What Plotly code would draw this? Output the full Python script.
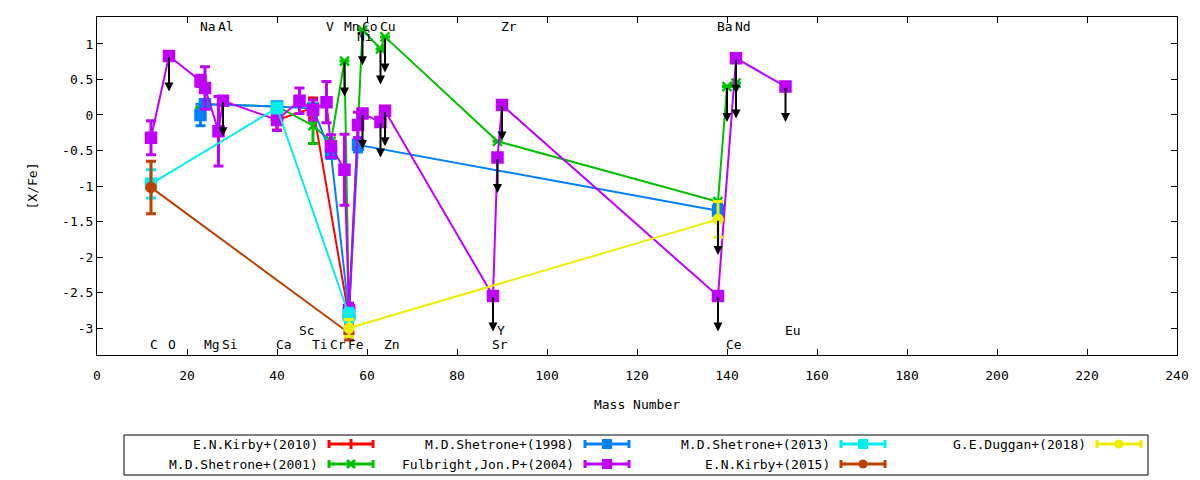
import plotly.graph_objects as go

# element labels: name, mass number, label row
elements = ["C", "O", "Na", "Mg", "Al", "Si", "Ca", "Sc", "Ti", "V", "Cr", "Mn",
            "Fe", "Ni", "Co", "Cu", "Zn", "Sr", "Y", "Zr", "Ba", "Ce", "Nd", "Eu"]
masses = [12, 16, 23, 24, 27, 28, 40, 45, 48, 51, 52, 55,
          56, 58, 59, 63, 64, 88, 89, 90, 138, 140, 142, 153]
label_rows = ["bot", "bot", "top", "bot", "top", "bot", "bot", "bot2", "bot", "top", "bot", "top",
              "bot", "top2", "top", "top", "bot", "bot", "bot2", "top", "top", "bot", "top", "bot2"]

# E.N.Kirby+(2010)
kirby10_el = ["Ca", "Ti", "Fe"]
kirby10_val = [-0.07, 0.10, -2.85]
kirby10_err = [0.14, 0.14, 0.10]
kirby10_lim = [0, 0, 0]

# M.D.Shetrone+(2001)
shet01_el = ["Na", "Mg", "Ca", "Ti", "Cr", "Mn", "Fe", "Co", "Cu", "Zn", "Y", "Ba", "Ce", "Nd"]
shet01_val = [0.04, 0.15, 0.12, -0.15, -0.37, 0.76, -2.80, 1.20, 0.93, 1.10, -0.37, -1.22, 0.40, 0.45]
shet01_err = [0.07, 0.05, 0, 0.25, 0, 0, 0.10, 0, 0, 0, 0, 0, 0, 0]
shet01_lim = [0, 0, 0, 0, 0, 1, 0, 1, 1, 1, 0, 0, 1, 1]

# M.D.Shetrone+(1998)
shet98_el = ["Na", "Mg", "Ca", "Ti", "Cr", "Fe", "Ni", "Ba"]
shet98_val = [0.00, 0.15, 0.12, 0.09, -0.54, -2.80, -0.42, -1.35]
shet98_err = [0.15, 0.05, 0, 0, 0.07, 0.10, 0.10, 0.10]
shet98_lim = [0, 0, 0, 0, 0, 0, 0, 0]

# Fulbright,Jon.P+(2004)
fulb04_el = ["C", "O", "Na", "Mg", "Al", "Si", "Ca", "Sc", "Ti", "V", "Cr", "Mn",
             "Fe", "Ni", "Co", "Cu", "Zn", "Sr", "Y", "Zr", "Ba", "Nd", "Eu"]
fulb04_val = [-0.32, 0.83, 0.48, 0.38, -0.23, 0.20, -0.07, 0.20, 0.07, 0.18, -0.44, -0.77,
              -2.75, -0.14, 0.02, -0.10, 0.06, -2.55, -0.60, 0.14, -2.55, 0.80, 0.40]
fulb04_err = [0.24, 0, 0.08, 0.30, 0.49, 0, 0.15, 0.18, 0.14, 0.29, 0.16, 0.50,
              0.10, 0.18, 0, 0, 0, 0, 0, 0, 0, 0, 0]
fulb04_lim = [0, 1, 0, 0, 0, 1, 0, 0, 0, 0, 0, 0,
              0, 0, 1, 1, 1, 1, 1, 1, 1, 1, 1]

# M.D.Shetrone+(2013)
shet13_el = ["C", "Ca", "Fe"]
shet13_val = [-0.97, 0.10, -2.82]
shet13_err = [0.20, 0.07, 0.10]
shet13_lim = [0, 0, 0]

# E.N.Kirby+(2015)
kirby15_el = ["C", "Fe"]
kirby15_val = [-1.02, -3.07]
kirby15_err = [0.37, 0.10]
kirby15_lim = [0, 0]

# G.E.Duggan+(2018)
dugg18_el = ["Fe", "Ba"]
dugg18_val = [-3.00, -1.47]
dugg18_err = [0.12, 0.25]
dugg18_lim = [0, 1]

yticks = [-3, -2.5, -2, -1.5, -1, -0.5, 0, 0.5, 1]
xticks = list(range(0, 241, 20))

FONT = "DejaVu Sans Mono"
mass_of = dict(zip(elements, masses))
row_y = {"top": 1.25, "top2": 1.10, "bot": -3.23, "bot2": -3.03}

series = [
    ("E.N.Kirby+(2010)", kirby10_el, kirby10_val, kirby10_err, kirby10_lim, "#ff0000", "plus"),
    ("M.D.Shetrone+(2001)", shet01_el, shet01_val, shet01_err, shet01_lim, "#00c000", "x"),
    ("M.D.Shetrone+(1998)", shet98_el, shet98_val, shet98_err, shet98_lim, "#0080ff", "square"),
    ("Fulbright,Jon.P+(2004)", fulb04_el, fulb04_val, fulb04_err, fulb04_lim, "#c000ff", "square"),
    ("M.D.Shetrone+(2013)", shet13_el, shet13_val, shet13_err, shet13_lim, "#00eeee", "square"),
    ("E.N.Kirby+(2015)", kirby15_el, kirby15_val, kirby15_err, kirby15_lim, "#c04000", "circle"),
    ("G.E.Duggan+(2018)", dugg18_el, dugg18_val, dugg18_err, dugg18_lim, "#eeee00", "circle"),
]

marker_style = {
    "plus": dict(symbol="cross-thin", size=9),
    "x": dict(symbol="x-thin", size=9),
    "square": dict(symbol="square", size=10),
    "circle": dict(symbol="circle", size=9),
}

fig = go.Figure()
annotations = []
for name, els, vals, errs, lims, color, mk in series:
    xs = [mass_of[e] for e in els]
    m = dict(marker_style[mk], color=color, line=dict(color=color, width=2.5))
    fig.add_trace(go.Scatter(
        x=xs, y=vals, mode="lines+markers", name=name, showlegend=False,
        line=dict(color=color, width=2), marker=m,
        error_y=dict(type="data", array=[e if e > 0 else None for e in errs],
                     color=color, thickness=3, width=5),
    ))
    # upper limits drawn as black down arrows
    for x, v, lim in zip(xs, vals, lims):
        if lim:
            annotations.append(dict(
                x=x, y=v - 0.5, ax=x, ay=v, xref="x", yref="y", axref="x", ayref="y",
                text="", showarrow=True, arrowhead=2, arrowsize=0.9, arrowwidth=2,
                arrowcolor="black"))

for el, m, r in zip(elements, masses, label_rows):
    annotations.append(dict(x=m, y=row_y[r], xref="x", yref="y", text=el, showarrow=False,
                            xanchor="left", xshift=-3, yanchor="middle",
                            font=dict(family=FONT, size=13, color="black")))

# hand-made legend box below the plot (gnuplot style: text, then sample)
# positions are page pixels; the plot area spans x 97..1177, y 17..355
def px_x(p):
    return (p - 97) / 1080

def px_y(p):
    return (355 - p) / 338

shapes = [dict(type="rect", xref="paper", yref="paper", x0=px_x(124), x1=px_x(1148),
               y0=px_y(435), y1=px_y(475), line=dict(color="black", width=1))]
for i, (name, els, vals, errs, lims, color, mk) in enumerate(series):
    cx = 351 + (i // 2) * 256
    cy = 444 + (i % 2) * 20
    annotations.append(dict(x=px_x(cx - 31), y=px_y(cy), xref="paper", yref="paper",
                            text=name, showarrow=False, xanchor="right", yanchor="middle",
                            font=dict(family=FONT, size=13, color="black")))
    ln = dict(color=color, width=3)
    shapes.append(dict(type="line", xref="paper", yref="paper", x0=px_x(cx - 22), x1=px_x(cx + 22),
                       y0=px_y(cy), y1=px_y(cy), line=ln))
    for ex in (cx - 22, cx + 22):
        shapes.append(dict(type="line", xref="paper", yref="paper", x0=px_x(ex), x1=px_x(ex),
                           y0=px_y(cy - 4), y1=px_y(cy + 4), line=ln))
    if mk == "square":
        shapes.append(dict(type="rect", xref="paper", yref="paper", x0=px_x(cx - 5), x1=px_x(cx + 5),
                           y0=px_y(cy - 5), y1=px_y(cy + 5), fillcolor=color, line=dict(width=0)))
    elif mk == "circle":
        shapes.append(dict(type="circle", xref="paper", yref="paper", x0=px_x(cx - 4.5), x1=px_x(cx + 4.5),
                           y0=px_y(cy - 4.5), y1=px_y(cy + 4.5), fillcolor=color, line=dict(width=0)))
    elif mk == "plus":
        shapes.append(dict(type="line", xref="paper", yref="paper", x0=px_x(cx), x1=px_x(cx),
                           y0=px_y(cy - 5), y1=px_y(cy + 5), line=ln))
    else:
        for d in (-1, 1):
            shapes.append(dict(type="line", xref="paper", yref="paper", x0=px_x(cx - 4), x1=px_x(cx + 4),
                               y0=px_y(cy - 4 * d), y1=px_y(cy + 4 * d), line=ln))

axis_common = dict(showline=True, linecolor="black", linewidth=1, mirror="ticks",
                   ticks="inside", ticklen=6, tickcolor="black", showgrid=False, zeroline=False,
                   tickfont=dict(family=FONT, size=13, color="black"))

# the page body adds an 8px offset, so the figure is 8px smaller and shifted margins
fig.update_layout(
    width=1192, height=472,
    margin=dict(l=89, r=23, t=9, b=125),
    paper_bgcolor="white", plot_bgcolor="white",
    font=dict(family=FONT, size=13, color="black"),
    xaxis=dict(axis_common, range=[0, 240], tickvals=xticks, ticktext=[str(t) for t in xticks],
               ticklabelstandoff=8,
               title=dict(text="Mass Number", standoff=18, font=dict(family=FONT, size=13))),
    yaxis=dict(axis_common, range=[-3.38, 1.38], tickvals=yticks,
               ticktext=[f"{t:g}" for t in yticks],
               title=dict(text="[X/Fe]", standoff=21, font=dict(family=FONT, size=13))),
    annotations=annotations,
    shapes=shapes,
)

fig.write_html("out.html")
